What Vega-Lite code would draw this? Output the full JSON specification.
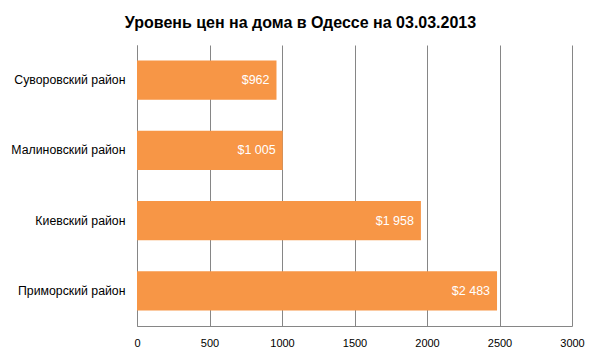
{
  "$schema": "https://vega.github.io/schema/vega-lite/v6.json",
  "width": 435,
  "height": 281,
  "autosize": {"type": "none"},
  "padding": {"left": 137, "top": 45, "right": 29, "bottom": 35},
  "background": "white",
  "title": {
    "text": "Уровень цен на дома в Одессе на 03.03.2013",
    "font": "Liberation Sans",
    "fontSize": 16,
    "fontWeight": "bold",
    "color": "#000000",
    "anchor": "middle",
    "dx": -54,
    "baseline": "alphabetic",
    "offset": 1
  },
  "config": {
    "view": {"stroke": null},
    "locale": {"number": {"decimal": ",", "thousands": " ", "grouping": [3], "currency": ["$", ""]}}
  },
  "data": {
    "values": [
      {"district": "Суворовский район", "price": 962},
      {"district": "Малиновский район", "price": 1005},
      {"district": "Киевский район", "price": 1958},
      {"district": "Приморский район", "price": 2483}
    ]
  },
  "encoding": {
    "y": {
      "field": "district",
      "type": "nominal",
      "sort": null,
      "scale": {"paddingInner": 0.44, "paddingOuter": 0.22},
      "axis": {
        "title": null,
        "ticks": false,
        "domainColor": "#868686",
        "labelFont": "Liberation Sans",
        "labelFontSize": 12.3,
        "labelColor": "#000000",
        "labelPadding": 12
      }
    },
    "x": {
      "field": "price",
      "type": "quantitative",
      "scale": {"domain": [0, 3000], "nice": false},
      "axis": {
        "title": null,
        "values": [0, 500, 1000, 1500, 2000, 2500, 3000],
        "ticks": false,
        "grid": true,
        "gridColor": "#868686",
        "gridOpacity": 1,
        "domainColor": "#868686",
        "labelFont": "Liberation Sans",
        "labelFontSize": 11,
        "labelColor": "#000000",
        "labelPadding": 11,
        "labelFlush": false,
        "format": "d"
      }
    }
  },
  "layer": [
    {"mark": {"type": "bar", "color": "#F79646"}},
    {
      "mark": {"type": "text", "align": "right", "baseline": "middle", "dx": -7, "color": "white", "font": "Liberation Sans", "fontSize": 12.5},
      "encoding": {"text": {"field": "price", "type": "quantitative", "format": "$,.0f"}}
    }
  ]
}
